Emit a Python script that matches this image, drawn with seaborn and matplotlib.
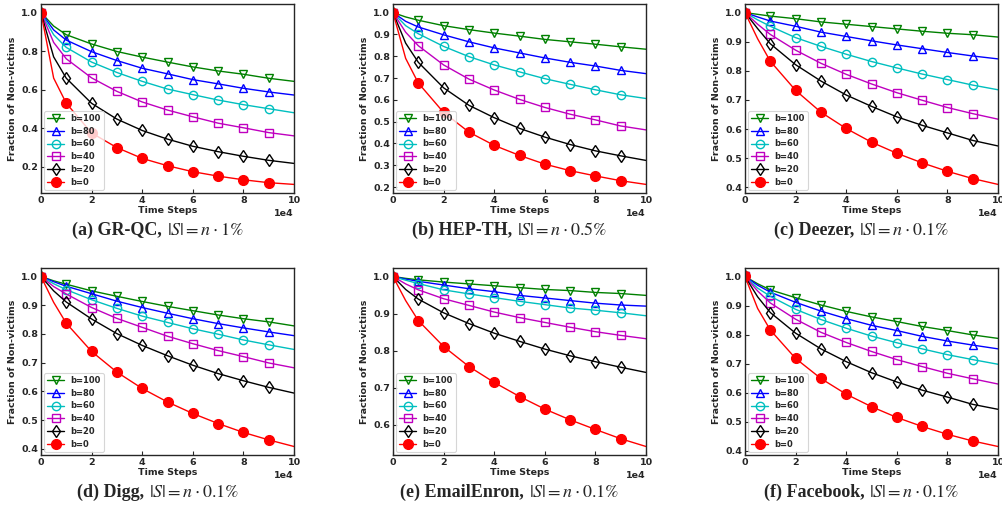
import matplotlib
matplotlib.use("Agg")
import matplotlib.pyplot as plt
import seaborn as sns
import pandas as pd
from matplotlib.ticker import MultipleLocator

# time steps (x axis is in units of 1e4)
time_steps = [0, 5000, 10000, 20000, 30000, 40000, 50000,
              60000, 70000, 80000, 90000, 100000]
budgets = [100, 80, 60, 40, 20, 0]

# fraction of non-victims, one row per budget (b=100 ... b=0)
grqc = [
    [1.0, 0.93, 0.885, 0.837, 0.798, 0.769, 0.743, 0.718, 0.697, 0.68, 0.659, 0.643],
    [1.0, 0.91, 0.857, 0.797, 0.751, 0.711, 0.682, 0.652, 0.63, 0.607, 0.588, 0.572],
    [1.0, 0.885, 0.819, 0.743, 0.689, 0.643, 0.603, 0.574, 0.546, 0.522, 0.501, 0.48],
    [1.0, 0.845, 0.76, 0.661, 0.591, 0.536, 0.494, 0.459, 0.426, 0.402, 0.377, 0.36],
    [1.0, 0.77, 0.659, 0.529, 0.447, 0.388, 0.343, 0.306, 0.278, 0.254, 0.233, 0.217],
    [1.0, 0.66, 0.529, 0.375, 0.299, 0.243, 0.205, 0.174, 0.151, 0.132, 0.117, 0.108],
]
hepth = [
    [1.0, 0.98, 0.965, 0.94, 0.922, 0.906, 0.892, 0.877, 0.866, 0.855, 0.843, 0.832],
    [1.0, 0.96, 0.934, 0.898, 0.866, 0.838, 0.815, 0.792, 0.772, 0.755, 0.735, 0.72],
    [1.0, 0.94, 0.903, 0.845, 0.798, 0.76, 0.728, 0.697, 0.671, 0.646, 0.623, 0.606],
    [1.0, 0.91, 0.848, 0.76, 0.695, 0.645, 0.602, 0.565, 0.534, 0.508, 0.48, 0.462],
    [1.0, 0.86, 0.772, 0.655, 0.575, 0.518, 0.469, 0.429, 0.395, 0.366, 0.343, 0.322],
    [1.0, 0.79, 0.677, 0.542, 0.452, 0.391, 0.345, 0.305, 0.275, 0.251, 0.229, 0.212],
]
deezer = [
    [1.0, 0.994, 0.988, 0.979, 0.968, 0.96, 0.952, 0.944, 0.936, 0.929, 0.924, 0.916],
    [1.0, 0.985, 0.971, 0.953, 0.933, 0.918, 0.903, 0.889, 0.876, 0.863, 0.851, 0.841],
    [1.0, 0.975, 0.953, 0.914, 0.884, 0.857, 0.832, 0.81, 0.789, 0.77, 0.751, 0.735],
    [1.0, 0.96, 0.925, 0.871, 0.826, 0.788, 0.755, 0.725, 0.699, 0.674, 0.653, 0.634],
    [1.0, 0.945, 0.893, 0.821, 0.765, 0.717, 0.678, 0.642, 0.613, 0.587, 0.561, 0.542],
    [1.0, 0.91, 0.833, 0.733, 0.658, 0.602, 0.555, 0.517, 0.484, 0.455, 0.43, 0.41],
]
digg = [
    [1.0, 0.985, 0.973, 0.95, 0.931, 0.913, 0.896, 0.881, 0.866, 0.853, 0.842, 0.828],
    [1.0, 0.982, 0.966, 0.94, 0.914, 0.892, 0.872, 0.853, 0.836, 0.821, 0.807, 0.794],
    [1.0, 0.975, 0.954, 0.919, 0.889, 0.862, 0.84, 0.818, 0.799, 0.779, 0.762, 0.746],
    [1.0, 0.965, 0.939, 0.892, 0.854, 0.823, 0.792, 0.766, 0.742, 0.721, 0.699, 0.682],
    [1.0, 0.95, 0.911, 0.852, 0.801, 0.76, 0.724, 0.691, 0.662, 0.637, 0.614, 0.594],
    [1.0, 0.91, 0.837, 0.739, 0.667, 0.61, 0.563, 0.523, 0.488, 0.457, 0.431, 0.408],
]
enron = [
    [1.0, 0.995, 0.991, 0.985, 0.98, 0.975, 0.97, 0.965, 0.962, 0.957, 0.954, 0.949],
    [1.0, 0.993, 0.987, 0.977, 0.967, 0.959, 0.949, 0.942, 0.935, 0.928, 0.923, 0.92],
    [1.0, 0.99, 0.981, 0.964, 0.953, 0.943, 0.933, 0.924, 0.915, 0.909, 0.902, 0.894],
    [1.0, 0.98, 0.964, 0.94, 0.922, 0.904, 0.889, 0.876, 0.863, 0.851, 0.841, 0.832],
    [1.0, 0.965, 0.939, 0.902, 0.873, 0.847, 0.825, 0.804, 0.786, 0.77, 0.755, 0.741],
    [1.0, 0.935, 0.881, 0.811, 0.757, 0.714, 0.676, 0.642, 0.613, 0.587, 0.562, 0.541],
]
facebook = [
    [1.0, 0.975, 0.954, 0.927, 0.902, 0.88, 0.861, 0.845, 0.828, 0.814, 0.799, 0.787],
    [1.0, 0.97, 0.946, 0.911, 0.881, 0.855, 0.832, 0.814, 0.794, 0.778, 0.764, 0.751],
    [1.0, 0.96, 0.932, 0.887, 0.852, 0.822, 0.795, 0.772, 0.751, 0.731, 0.714, 0.698],
    [1.0, 0.95, 0.909, 0.853, 0.808, 0.773, 0.742, 0.714, 0.69, 0.667, 0.648, 0.63],
    [1.0, 0.93, 0.876, 0.805, 0.751, 0.707, 0.669, 0.637, 0.609, 0.585, 0.56, 0.543],
    [1.0, 0.89, 0.816, 0.718, 0.649, 0.595, 0.552, 0.515, 0.484, 0.457, 0.434, 0.415],
]

panel_data = [grqc, hepth, deezer, digg, enron, facebook]
panel_names = ["(a) GR-QC,", "(b) HEP-TH,", "(c) Deezer,",
               "(d) Digg,", "(e) EmailEnron,", "(f) Facebook,"]
seed_share = ["1", "0.5", "0.1", "0.1", "0.1", "0.1"]

colors = ["g", "b", "c", "m", "k", "r"]
markers = ["v", "^", "o", "s", "d", "o"]
ytick_step = [0.2, 0.1, 0.1, 0.1, 0.1, 0.1]

sns.set_style("ticks", {"xtick.direction": "in", "ytick.direction": "in"})
plt.rcParams["font.family"] = ["DejaVu Sans"]
plt.rcParams["mathtext.fontset"] = "stix"

W, H = 1003, 516
fig = plt.figure(figsize=(W / 100, H / 100), dpi=100)

lefts = [41, 393, 745]
rows = [(4, 193), (268, 455)]
ax_w = 253

# marker on every integer step except the last one
mark_idx = [i for i, t in enumerate(time_steps) if t % 10000 == 0 and t < 100000]

captions = []
for k, data in enumerate(panel_data):
    r, c = divmod(k, 3)
    top, bottom = rows[r]
    ax = fig.add_axes([lefts[c] / W, 1 - bottom / H, ax_w / W, (bottom - top) / H])

    for j, b in enumerate(budgets):
        df = pd.DataFrame({"step": time_steps, "frac": data[j]})
        filled = b == 0
        sns.lineplot(
            data=df, x="step", y="frac", ax=ax,
            color=colors[j], marker=markers[j], markevery=mark_idx,
            markersize=7 if filled else 6,
            markerfacecolor=colors[j] if filled else "none",
            markeredgecolor=colors[j], markeredgewidth=1.0,
            linewidth=1.0, label=f"b={b}", errorbar=None,
        )

    ax.set_xlim(0, 100000)
    ax.xaxis.set_major_locator(MultipleLocator(20000))
    ax.yaxis.set_major_locator(MultipleLocator(ytick_step[k]))
    ax.ticklabel_format(axis="x", style="sci", scilimits=(4, 4))
    ax.xaxis.get_offset_text().set_fontsize(6.8)
    ax.xaxis.get_offset_text().set_fontweight("bold")
    ax.tick_params(axis="both", direction="in", length=3, width=0.8,
                   labelsize=6.8, pad=2)
    for lab in ax.get_xticklabels() + ax.get_yticklabels():
        lab.set_fontweight("bold")
    for sp in ax.spines.values():
        sp.set_visible(True)
        sp.set_linewidth(1.0)
    ax.set_xlabel("Time Steps", fontsize=6.8, fontweight="bold", labelpad=1)
    ax.set_ylabel("Fraction of Non-victims", fontsize=6.8, fontweight="bold", labelpad=3)

    leg = ax.legend(loc="lower left", fontsize=6, frameon=True,
                    borderaxespad=0.4, handlelength=2.0, labelspacing=0.45,
                    borderpad=0.35)
    leg.get_frame().set_edgecolor("#cccccc")
    leg.get_frame().set_linewidth(0.8)
    for t in leg.get_texts():
        t.set_fontweight("bold")

    cx = lefts[c] + ax_w / 2 - 10
    cy = 1 - (230 if r == 0 else 492) / H
    t1 = fig.text(0, cy, panel_names[k], ha="left", va="center",
                  fontsize=13, fontweight="bold",
                  family=["Liberation Serif", "DejaVu Serif"])
    t2 = fig.text(0, cy, f"$|S| = n \\cdot {seed_share[k]}\\%$", ha="left",
                  va="center", fontsize=13)
    captions.append((cx, t1, t2))

# center each two-part caption (bold name + regular math) under its panel
fig.canvas.draw()
rend = fig.canvas.get_renderer()
gap = 5
for cx, t1, t2 in captions:
    w1 = t1.get_window_extent(rend).width
    w2 = t2.get_window_extent(rend).width
    x0 = cx - (w1 + gap + w2) / 2
    t1.set_x(x0 / W)
    t2.set_x((x0 + w1 + gap) / W)

fig.savefig("out.png", dpi=100)
